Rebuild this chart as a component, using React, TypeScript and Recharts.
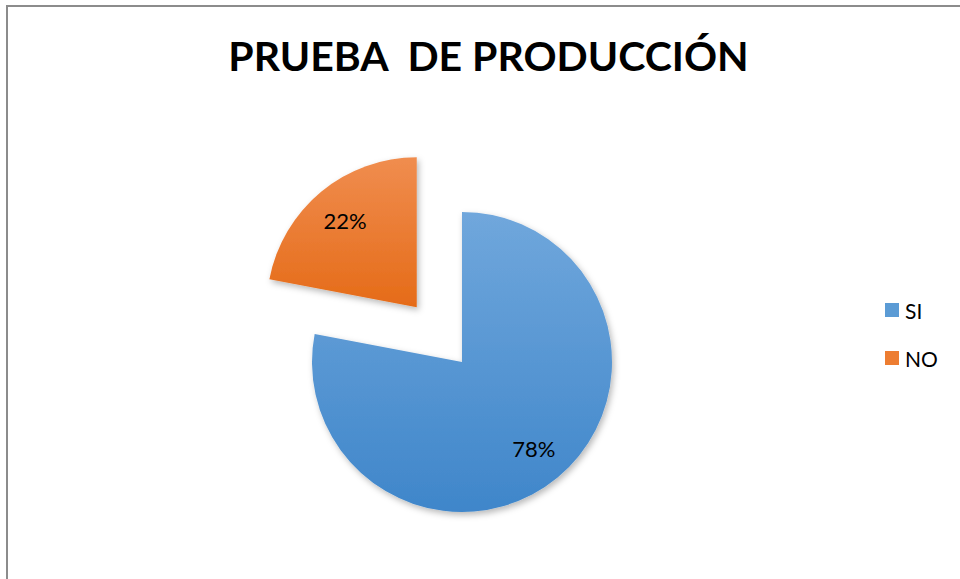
import { PieChart, Pie, Cell, Legend } from 'recharts'

const categories = ['SI', 'NO']
const values = [78, 22]
const colors = ['#5b9bd5', '#ed7d31']
const title = 'PRUEBA  DE PRODUCCIÓN'

const data = categories.map((name, i) => ({ name, value: values[i] }))

const RADIAN = Math.PI / 180
const CX = 462
const CY = 362
const R = 150
const EXPLODE = 71

// the NO slice is pulled out along its mid angle
const total = values.reduce((a, b) => a + b, 0)
const noMid = 90 - (360 * (values[0] + values[1] / 2)) / total
const CX2 = CX + EXPLODE * Math.cos(noMid * RADIAN)
const CY2 = CY - EXPLODE * Math.sin(noMid * RADIAN)

function pctLabel(idx: number) {
  return (props: any) => {
    if (props.index !== idx) return null
    const r = props.outerRadius * 0.75
    const x = props.cx + r * Math.cos(-props.midAngle * RADIAN)
    const y = props.cy + r * Math.sin(-props.midAngle * RADIAN)
    return (
      <text
        x={x}
        y={y}
        textAnchor="middle"
        dominantBaseline="central"
        fill="#000"
        fontSize={22}
        fontFamily="Lato, 'Open Sans', sans-serif"
      >
        {`${Math.round(props.percent * 100)}%`}
      </text>
    )
  }
}

function LegendBox() {
  return (
    <div style={{ fontFamily: "Lato, 'Open Sans', sans-serif" }}>
      {categories.map((c, i) => (
        <div key={c} style={{ display: 'flex', alignItems: 'center', height: 48 }}>
          <div style={{ width: 14, height: 14, background: colors[i], marginRight: 6 }} />
          <span style={{ fontSize: 21, color: '#000' }}>{c}</span>
        </div>
      ))}
    </div>
  )
}

export default function App() {
  return (
    <div style={{ position: 'absolute', left: 0, top: 0, width: 960, height: 579, background: '#fff', overflow: 'hidden' }}>
      <div
        style={{
          position: 'absolute',
          left: 6,
          top: 5,
          width: 1000,
          height: 1000,
          border: '2px solid #8c8c8c',
        }}
      />
      <div
        style={{
          position: 'absolute',
          left: 0,
          width: 977,
          top: 31,
          textAlign: 'center',
          fontFamily: "Lato, 'Open Sans', sans-serif",
          fontWeight: 'bold',
          fontSize: 41,
          color: '#000',
          whiteSpace: 'pre',
        }}
      >
        {title}
      </div>
      <div style={{ position: 'absolute', left: 0, top: 0 }}>
        <PieChart width={960} height={579} margin={{ top: 0, right: 0, bottom: 0, left: 0 }}>
          <defs>
            <linearGradient id="blueGrad" x1="0" y1="0" x2="0" y2="1">
              <stop offset="0%" stopColor="#70a7dc" />
              <stop offset="100%" stopColor="#3f86ca" />
            </linearGradient>
            <linearGradient id="orangeGrad" x1="0" y1="0" x2="0" y2="1">
              <stop offset="0%" stopColor="#f08d4f" />
              <stop offset="100%" stopColor="#e56b18" />
            </linearGradient>
            <filter id="shadow" x="-20%" y="-20%" width="140%" height="140%">
              <feDropShadow dx="2" dy="3" stdDeviation="3" floodColor="#000" floodOpacity="0.28" />
            </filter>
          </defs>
          <Pie
            data={data}
            dataKey="value"
            nameKey="name"
            cx={CX}
            cy={CY}
            outerRadius={R}
            startAngle={90}
            endAngle={-270}
            stroke="none"
            labelLine={false}
            label={pctLabel(0)}
            legendType="none"
            isAnimationActive={false}
          >
            <Cell fill="url(#blueGrad)" filter="url(#shadow)" />
            <Cell fill="none" />
          </Pie>
          <Pie
            data={data}
            dataKey="value"
            nameKey="name"
            cx={CX2}
            cy={CY2}
            outerRadius={R}
            startAngle={90}
            endAngle={-270}
            stroke="none"
            labelLine={false}
            label={pctLabel(1)}
            legendType="none"
            isAnimationActive={false}
          >
            <Cell fill="none" />
            <Cell fill="url(#orangeGrad)" filter="url(#shadow)" />
          </Pie>
          <Legend
            content={() => <LegendBox />}
            layout="vertical"
            wrapperStyle={{ left: 885, top: 286, width: 80 }}
          />
        </PieChart>
      </div>
    </div>
  )
}
